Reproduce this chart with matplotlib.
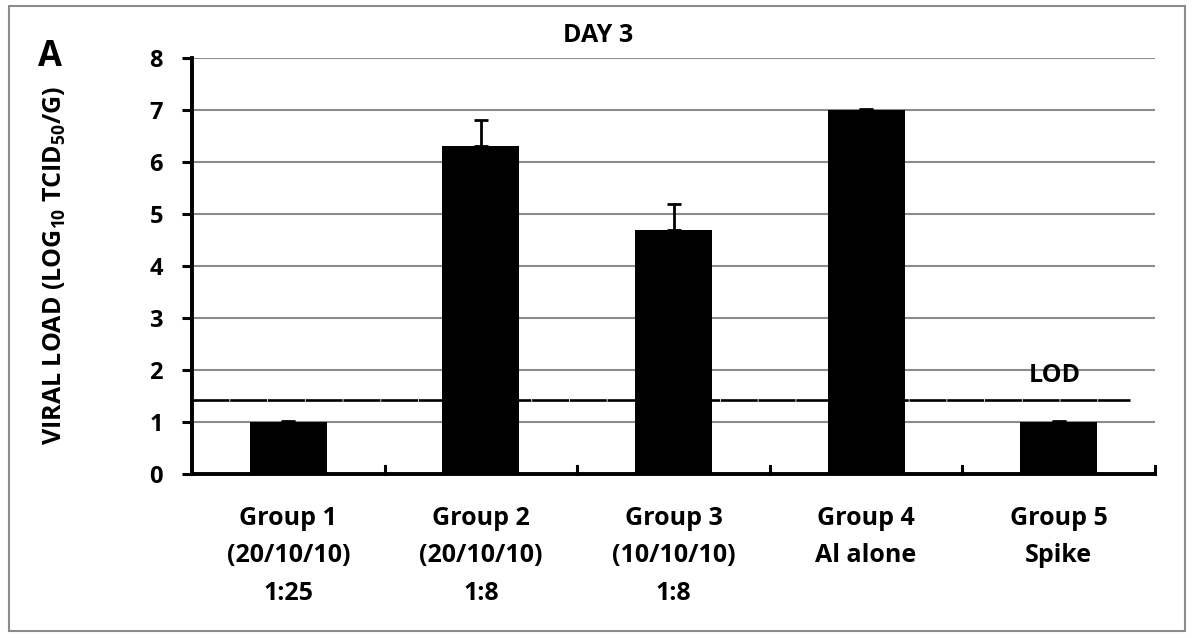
import matplotlib
matplotlib.use("Agg")
import matplotlib.pyplot as plt
from matplotlib.patches import Rectangle

plt.rcParams['font.family'] = ['Open Sans', 'DejaVu Sans']
plt.rcParams['mathtext.fontset'] = 'custom'
plt.rcParams['mathtext.rm'] = 'Open Sans'
plt.rcParams['mathtext.bf'] = 'Open Sans:bold'

categories = ["Group 1\n(20/10/10)\n1:25", "Group 2\n(20/10/10)\n1:8",
              "Group 3\n(10/10/10)\n1:8", "Group 4\nAl alone", "Group 5\nSpike"]
values = [1.0, 6.3, 4.7, 7.0, 1.0]
errors = [0.02, 0.5, 0.5, 0.02, 0.02]
lod = 1.42
yticks = [0, 1, 2, 3, 4, 5, 6, 7, 8]

fig = plt.figure(figsize=(11.94, 6.38), dpi=100)
fig.patches.append(Rectangle((9/1194, 1-631/638), 1176/1194, 625/638,
                             transform=fig.transFigure, fill=False,
                             edgecolor='#8c8c8c', linewidth=1.5))
ax = fig.add_axes([192/1194, 1-474/638, 963/1194, 416/638])

x = list(range(len(categories)))
ax.bar(x, values, width=0.4, color='black', zorder=3,
       yerr=[[0]*len(errors), errors], error_kw=dict(ecolor='black', elinewidth=2, capsize=5, capthick=2, zorder=4))
ax.axhline(lod, xmin=0, xmax=(1130-192)/963, color='black', linewidth=1.9,
           dashes=(14, 0.3), zorder=2)
ax.text(4 - 0.02, lod + 0.48, "LOD", ha='center', va='center', fontsize=18, fontweight='bold')

ax.set_xlim(-0.5, 4.5)
ax.set_ylim(0, 8)
ax.set_yticks(yticks)
ax.yaxis.grid(True, color='#8c8c8c', linewidth=1.5, zorder=0)
ax.set_axisbelow(True)
ax.set_xticks(x)
ax.set_xticklabels(categories, fontsize=18, fontweight='bold', linespacing=1.65)
ax.tick_params(axis='x', length=0, pad=23)
for b in [0.5, 1.5, 2.5, 3.5, 4.5]:
    ax.plot([b, b], [0, 0.16], color='black', linewidth=2.2, zorder=5, clip_on=False)
ax.tick_params(axis='y', direction='out', length=7, width=2.2, labelsize=17, pad=14)
for lab in ax.get_yticklabels():
    lab.set_fontweight('bold')
for s in ['top', 'right']:
    ax.spines[s].set_visible(False)
for s in ['left', 'bottom']:
    ax.spines[s].set_linewidth(2.8)
fig.text(55/1194, 1-265/638, "VIRAL LOAD (LOG$_{\\mathbf{10}}$ TCID$_{\\mathbf{50}}$/G)", fontsize=18,
         fontweight='bold', rotation=90, ha='center', va='center')
fig.text(598/1194, 1-35/638, "DAY 3", fontsize=18, fontweight='bold', ha='center', va='center')
fig.text(50/1194, 1-57/638, "A", fontsize=25, fontweight='bold', ha='center', va='center')

fig.savefig("out.png", dpi=100)
